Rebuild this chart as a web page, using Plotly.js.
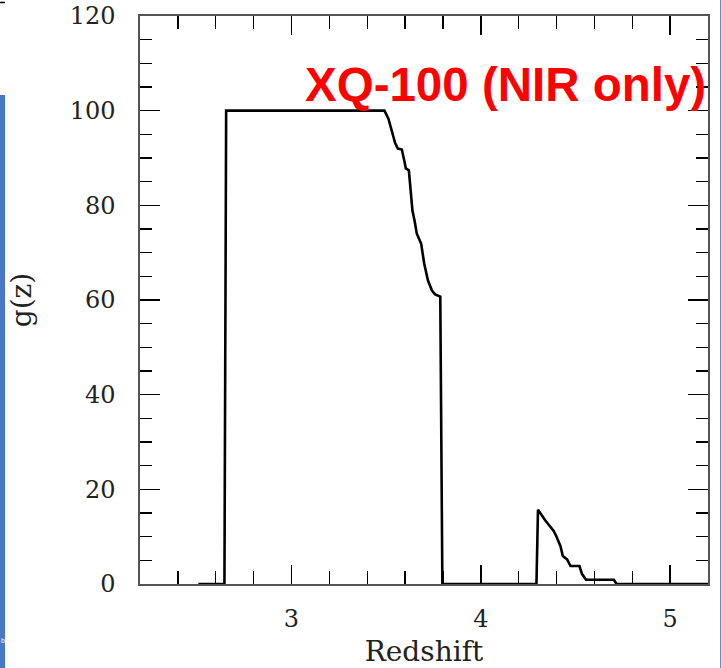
<!DOCTYPE html>
<html>
<head>
<meta charset="utf-8">
<script src="https://cdn.plot.ly/plotly-3.0.1.min.js"></script>
<style>html,body{margin:0;padding:0;background:#fff;}#chart{width:722px;height:668px;}</style>
</head>
<body>
<div id="chart"></div>
<script>
// Redshift grid (x) and g(z) values
const redshift = [2.508, 2.646, 2.655, 3.491, 3.512, 3.530, 3.548, 3.562, 3.583, 3.597, 3.604, 3.620, 3.627, 3.639, 3.650, 3.662, 3.685, 3.701, 3.721, 3.742, 3.759, 3.780, 3.786, 3.797, 4.294, 4.302, 4.341, 4.385, 4.399, 4.421, 4.433, 4.456, 4.474, 4.521, 4.535, 4.556, 4.703, 4.717, 5.20];
const gz = [0, 0, 100, 100, 98.3, 95.5, 93.1, 92.0, 91.8, 89.2, 87.8, 87.4, 84.6, 78.9, 76.8, 74.0, 71.9, 67.7, 64.1, 62.0, 61.2, 60.7, 60.7, 0, 0, 15.7, 13.4, 11.2, 10.1, 8.0, 5.9, 5.2, 3.8, 3.8, 2.1, 0.9, 0.9, 0, 0];
const xTickVals = [3, 4, 5];
const xTickText = ['3', '4', '5'];
const yTickVals = [0, 20, 40, 60, 80, 100, 120];
const yTickText = ['0', '20', '40', '60', '80', '100', '120'];
const xTitle = 'Redshift';
const yTitle = 'g(z)';
const label = 'XQ-100 (NIR only)';

const serif = 'DejaVu Serif, serif';
const trace = {
  x: redshift, y: gz, type: 'scatter', mode: 'lines',
  line: {color: '#000', width: 2.6, shape: 'linear'},
  hoverinfo: 'skip', showlegend: false
};

const W = 722, H = 668, L = 140, R = 708, T = 16, B = 583.6;
const px = p => (p - L) / (R - L);
const py = p => (B - p) / (B - T);

const layout = {
  width: W, height: H,
  margin: {l: L, r: W - R, t: T, b: H - B, pad: 0},
  paper_bgcolor: '#fff', plot_bgcolor: '#fff',
  showlegend: false,
  xaxis: {
    range: [2.2, 5.2], autorange: false,
    tickmode: 'array', tickvals: xTickVals, ticktext: xTickText,
    ticks: 'inside', ticklen: 19, tickwidth: 1.6, tickcolor: '#000',
    minor: {dtick: 0.2, tick0: 0, ticks: 'inside', ticklen: 13, tickwidth: 1.4, tickcolor: '#000', showgrid: false},
    showline: true, linecolor: '#555', linewidth: 1.6, mirror: 'ticks',
    showgrid: false, zeroline: false,
    tickfont: {family: serif, size: 24, color: '#222'},
    ticklabelstandoff: 13,
    title: {text: xTitle, font: {family: serif, size: 28, color: '#222'}, standoff: 13},
    automargin: false
  },
  yaxis: {
    range: [0, 120], autorange: false,
    tickmode: 'array', tickvals: yTickVals, ticktext: yTickText,
    ticks: 'inside', ticklen: 20, tickwidth: 1.6, tickcolor: '#000',
    minor: {dtick: 5, tick0: 0, ticks: 'inside', ticklen: 12, tickwidth: 1.4, tickcolor: '#000', showgrid: false},
    showline: true, linecolor: '#555', linewidth: 1.6, mirror: 'ticks',
    showgrid: false, zeroline: false,
    tickfont: {family: serif, size: 24, color: '#222'},
    ticklabelstandoff: 18,
    title: {text: yTitle, font: {family: serif, size: 28, color: '#222'}, standoff: 30},
    automargin: false
  },
  annotations: [
    {xref: 'paper', yref: 'paper', x: 1.0, y: py(84), xanchor: 'right', yanchor: 'middle',
     text: label, showarrow: false,
     font: {family: 'Liberation Sans, Arial, sans-serif', size: 47.5, color: '#ff0000', weight: 'bold'}},
    {xref: 'paper', yref: 'paper', x: px(2.6), y: py(640), xanchor: 'center', yanchor: 'middle',
     text: 'b', showarrow: false, font: {family: 'Liberation Sans, sans-serif', size: 7, color: '#ffffff'}}
  ],
  shapes: [
    {type: 'rect', xref: 'paper', yref: 'paper', x0: px(-2), x1: px(5), y0: py(668), y1: py(95),
     fillcolor: '#4a78c8', line: {width: 0}, layer: 'below'},
    {type: 'line', xref: 'paper', yref: 'paper', x0: px(0), x1: px(5), y0: py(2.5), y1: py(2.5),
     line: {color: '#000', width: 1.5}},
    {type: 'line', xref: 'paper', yref: 'paper', x0: px(720.7), x1: px(720.7), y0: py(-2), y1: py(670),
     line: {color: '#5b80cc', width: 1.2}}
  ]
};

Plotly.newPlot('chart', [trace], layout, {staticPlot: true, displayModeBar: false});
</script>
</body>
</html>
